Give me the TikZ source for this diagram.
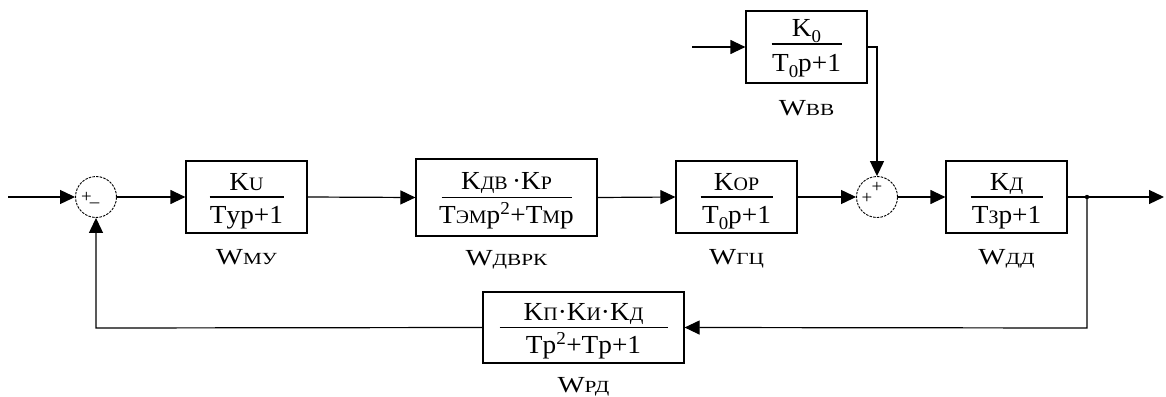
\documentclass[tikz,border=0pt]{standalone}
\usepackage{fontspec}
\setmainfont[FakeStretch=1.05]{Liberation Serif}
\newfontfamily\lblfont[FakeStretch=1.25]{Liberation Serif}
\usetikzlibrary{arrows.meta,calc}
\newcommand{\sm}[1]{{\fontsize{19}{19}\selectfont #1}}
\newcommand{\lsm}[1]{{\fontsize{17}{17}\selectfont #1}}
\newcommand{\lo}[1]{\raisebox{-6pt}{\fontsize{18}{18}\selectfont #1}}
\tikzset{
  blk/.style={draw,line width=1.2pt,minimum width=121pt,minimum height=72pt,inner sep=0pt},
  sumc/.style={draw,circle,line width=0.9pt,dash pattern=on 2.5pt off 1.2pt,minimum size=41pt,inner sep=0pt},
  txt/.style={anchor=base,inner sep=0pt,font=\fontsize{26}{27}\selectfont},
  lbl/.style={anchor=base,inner sep=0pt,font=\lblfont\fontsize{23}{24}\selectfont},
  sgn/.style={inner sep=0pt,font=\fontsize{18}{18}\selectfont},
  conn/.style={line width=1.2pt},
  arr/.style={line width=1.2pt,-{Triangle[length=15pt,width=14pt]}},
  bar/.style={line width=1.2pt}
}
\begin{document}
\begin{tikzpicture}[x=1pt,y=-1pt]
\useasboundingbox (0,0) rectangle (1166,396);
% sums
\node[sumc] (s1) at (96,197) {};
\node[sgn] (s1p) at (86.5,197) {+};
\node[sgn] (s1m) at (94.5,203) {\_};
\node[sumc] (s2) at (877,197) {};
\node[sgn] (s2a) at (867,198) {+};
\node[sgn] (s2b) at (877,187) {+};
% blocks
\node[blk] (b1) at (246.5,197) {};
\node[blk,minimum width=181pt,minimum height=77pt] (b2) at (506.5,197.5) {};
\node[blk] (b3) at (736.5,197) {};
\node[blk] (b4) at (1006.5,197) {};
\node[blk] (bt) at (806.5,47) {};
\node[blk,minimum width=201pt,minimum height=71pt] (bf) at (583.5,327.5) {};
% fractions
\node[txt] (n1) at ($(b1.center)+(0,-7)$) {K\sm{U}};
\draw[bar] ($(b1.center)+(-37,0)$) -- ($(b1.center)+(37,0)$);
\node[txt] (d1) at ($(b1.center)+(0,26)$) {Tуp+1};
\node[lbl] (l1) at ($(b1.south)+(0,31)$) {W\lsm{МУ}};

\node[txt] (n2) at ($(b2.center)+(0,-8)$) {K\sm{ДВ}\,·K\sm{Р}};
\draw[bar] ($(b2.center)+(-65,0)$) -- ($(b2.center)+(65,0)$);
\node[txt] (d2) at ($(b2.center)+(0,26)$) {T\sm{ЭМ}p\textsuperscript{2}+T\sm{М}p};
\node[lbl] (l2) at ($(b2.south)+(0,29)$) {W\lsm{ДВРК}};

\node[txt] (n3) at ($(b3.center)+(0,-7)$) {K\sm{ОР}};
\draw[bar] ($(b3.center)+(-36,0)$) -- ($(b3.center)+(36,0)$);
\node[txt] (d3) at ($(b3.center)+(0,26)$) {T\lo{0}p+1};
\node[lbl] (l3) at ($(b3.south)+(0,31)$) {W\lsm{ГЦ}};

\node[txt] (n4) at ($(b4.center)+(0,-7)$) {K\sm{Д}};
\draw[bar] ($(b4.center)+(-36,0)$) -- ($(b4.center)+(36,0)$);
\node[txt] (d4) at ($(b4.center)+(0,26)$) {T\sm{З}p+1};
\node[lbl] (l4) at ($(b4.south)+(0,31)$) {W\lsm{ДД}};

\node[txt] (nt) at ($(bt.center)+(0,-10)$) {K\lo{0}};
\draw[bar] ($(bt.center)+(-35,-3)$) -- ($(bt.center)+(35,-3)$);
\node[txt] (dt) at ($(bt.center)+(0,24)$) {T\lo{0}p+1};
\node[lbl] (lt) at ($(bt.south)+(0,32)$) {W\lsm{ВВ}};

\node[txt] (nf) at ($(bf.center)+(0,-7)$) {K\sm{П}·K\sm{И}·K\sm{Д}};
\draw[bar] ($(bf.center)+(-84,0)$) -- ($(bf.center)+(84,0)$);
\node[txt] (df) at ($(bf.center)+(0,26)$) {Tp\textsuperscript{2}+Tp+1};
\node[lbl] (lf) at ($(bf.south)+(0,29)$) {W\lsm{РД}};

% coordinates
\coordinate (in) at (8,197);
\coordinate (br) at (1087,197);
\coordinate (out) at (1164,197);
\coordinate (tin) at (692,47);
\coordinate (tc) at (877,47);
\coordinate (fr) at (1087,328);
\coordinate (fl) at (96,328);
\fill (br) circle (2.2pt);
% connectors
\draw[arr] (in) -- (s1.west);
\draw[arr] (s1.east) -- (b1.west);
\draw[arr] (b1.east) -- (b2.west);
\draw[arr] (b2.east) -- (b3.west);
\draw[arr] (b3.east) -- (s2.west);
\draw[arr] (s2.east) -- (b4.west);
\draw[conn] (b4.east) -- (br);
\draw[arr] (br) -- (out);
\draw[arr] (tin) -- (bt.west);
\draw[arr] (bt.east) -- (tc) -- (s2.north);
\draw[arr] (br) -- (fr) -- (bf.east);
\draw[arr] (bf.west) -- (fl) -- (s1.south);
\end{tikzpicture}
\end{document}
